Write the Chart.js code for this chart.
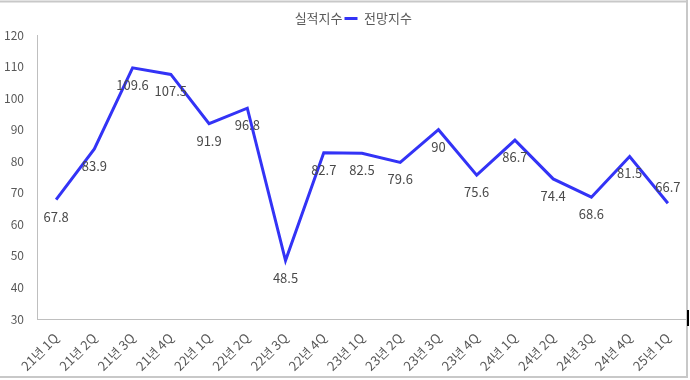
<!DOCTYPE html>
<html>
<head>
<meta charset="utf-8">
<script src="https://cdn.jsdelivr.net/npm/chart.js@4.4.0/dist/chart.umd.min.js"></script>
<style>
  html, body { margin: 0; padding: 0; background: #fff; }
  #wrap { width: 690px; height: 380px; }
</style>
</head>
<body>
<div id="wrap"><canvas id="myChart" width="690" height="380"></canvas></div>
<script>
// data
var quarters = ['21년 1Q', '21년 2Q', '21년 3Q', '21년 4Q', '22년 1Q', '22년 2Q', '22년 3Q', '22년 4Q',
    '23년 1Q', '23년 2Q', '23년 3Q', '23년 4Q', '24년 1Q', '24년 2Q', '24년 3Q', '24년 4Q', '25년 1Q'];
var actualIndex = [];   // 실적지수: shown in legend only, no visible line
var outlookIndex = [67.8, 83.9, 109.6, 107.5, 91.9, 96.8, 48.5, 82.7, 82.5, 79.6, 90, 75.6, 86.7, 74.4, 68.6, 81.5, 66.7];
var labelPos = ['below', 'below', 'below', 'below', 'below', 'below', 'below', 'below', 'below',
    'below', 'below', 'below', 'below', 'below', 'below', 'below', 'above'];

var textColor = '#595959';
var fontFamily = "'Noto Sans CJK KR', 'Noto Sans', sans-serif";

// value labels next to each point
var valueLabels = {
    id: 'valueLabels',
    afterDatasetsDraw: function (chart) {
        var ctx = chart.ctx;
        var meta = chart.getDatasetMeta(1);
        ctx.save();
        ctx.font = '13px ' + fontFamily;
        ctx.fillStyle = '#4a4a4a';
        ctx.textAlign = 'center';
        ctx.textBaseline = 'middle';
        meta.data.forEach(function (pt, i) {
            var dy = labelPos[i] === 'above' ? -16 : 17;
            ctx.fillText(String(outlookIndex[i]), pt.x, pt.y + dy);
        });
        ctx.restore();
    }
};

// the frame lines around the picture
var frame = {
    id: 'frame',
    afterDraw: function (chart) {
        var ctx = chart.ctx;
        ctx.save();
        ctx.strokeStyle = '#c8c8c8';
        ctx.lineWidth = 2;
        ctx.beginPath();
        ctx.moveTo(0, 1.5); ctx.lineTo(688, 1.5);
        ctx.moveTo(687, 0); ctx.lineTo(687, 378);
        ctx.moveTo(0, 377); ctx.lineTo(688, 377);
        ctx.stroke();
        ctx.fillStyle = '#000';
        ctx.fillRect(687, 310, 2, 16);
        ctx.restore();
    }
};

var ctx = document.getElementById('myChart').getContext('2d');
var myChart = new Chart(ctx, {
    type: 'line',
    data: {
        labels: quarters,
        datasets: [{
            label: '실적지수',
            data: actualIndex,
            borderColor: 'rgba(255,255,255,0)',
            backgroundColor: 'rgba(255,255,255,0)',
            pointRadius: 0
        }, {
            label: '전망지수',
            data: outlookIndex,
            borderColor: '#3333f6',
            backgroundColor: '#3333f6',
            borderWidth: 3,
            pointRadius: 0,
            tension: 0
        }]
    },
    options: {
        responsive: false,
        animation: false,
        layout: { padding: { top: 10, right: 3, left: 0, bottom: 0 } },
        plugins: {
            legend: {
                position: 'top',
                labels: {
                    usePointStyle: true,
                    pointStyle: 'line',
                    pointStyleWidth: 13,
                    padding: 2,
                    color: textColor,
                    font: { family: fontFamily, size: 13 }
                }
            },
            tooltip: { enabled: false }
        },
        scales: {
            x: {
                offset: true,
                grid: { display: false, drawTicks: false },
                border: { display: true, color: '#bfbfbf', width: 1 },
                ticks: {
                    color: textColor,
                    font: { family: fontFamily, size: 13 },
                    maxRotation: 45,
                    minRotation: 45,
                    autoSkip: false,
                    padding: 11
                },
                afterFit: function (scale) { scale.height = 61; }
            },
            y: {
                min: 30,
                max: 120,
                grid: { display: false, drawTicks: false },
                border: { display: true, color: '#bfbfbf', width: 1 },
                ticks: {
                    stepSize: 10,
                    color: textColor,
                    font: { family: fontFamily, size: 12 },
                    padding: 13
                },
                afterFit: function (scale) { scale.width = 37; }
            }
        }
    },
    plugins: [valueLabels, frame]
});
</script>
</body>
</html>
